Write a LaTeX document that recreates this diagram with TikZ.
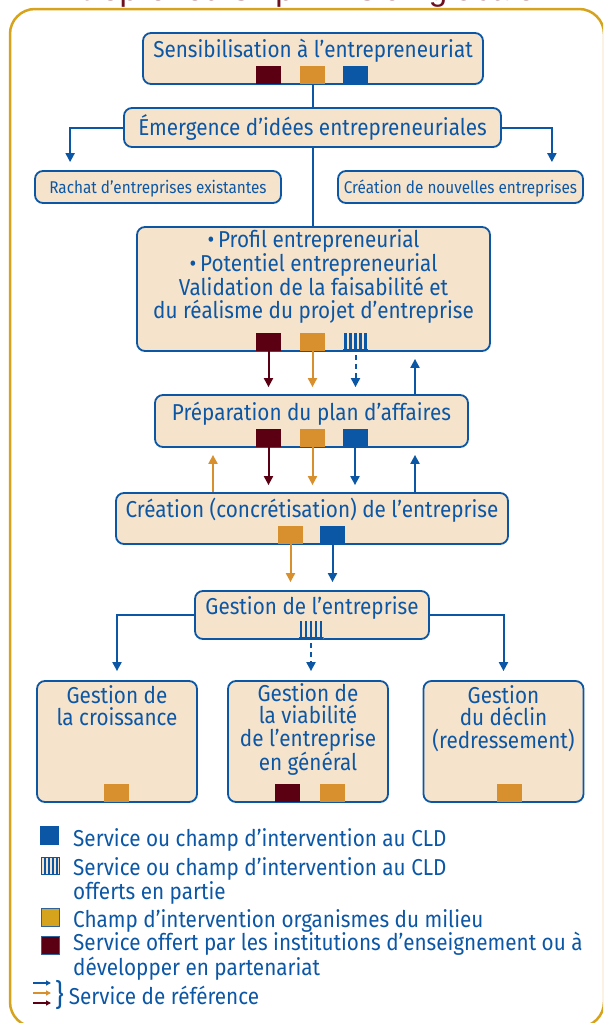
\documentclass[tikz,border=0pt]{standalone}
\usepackage{fontspec}
\setmainfont{Fira Sans}[FakeStretch=0.9]
\newfontfamily\titlefont{Liberation Sans}
\usetikzlibrary{arrows.meta}

\definecolor{cldblue}{HTML}{0C57A5}
\definecolor{cldred}{HTML}{5A0012}
\definecolor{cldorange}{HTML}{D88F2D}
\definecolor{cldgold}{HTML}{D6A31C}
\definecolor{boxfill}{HTML}{F5E3CB}
\definecolor{titlered}{HTML}{6E1020}

\begin{document}
\begin{tikzpicture}[x=1pt, y=-1pt,
    box/.style={draw=cldblue, fill=boxfill, line width=1.8pt, rounded corners=8pt, inner sep=0pt},
    txt/.style={text=cldblue, inner sep=0pt, align=center, font=\fontsize{23}{22.5}\selectfont},
    small/.style={txt, font=\fontsize{17}{20}\selectfont},
    sq/.style={minimum width=25pt, minimum height=18pt, inner sep=0pt, anchor=south},
    striped/.style={sq, fill=boxfill, path picture={
        \foreach \i in {0,...,4}
            \fill[cldblue] ([xshift=\i*5pt+1pt]path picture bounding box.south west) rectangle ++(2.6pt,18pt);
        \fill[cldblue] (path picture bounding box.south west) rectangle ([yshift=2pt]path picture bounding box.south east);}},
    conn/.style={draw=cldblue, line width=2pt},
    arr/.style={conn, -{Triangle[width=9pt,length=9pt]}},
]
    \useasboundingbox (0,0) rectangle (603,1023);

    % Frame and title
    \begin{scope}
        \clip (0,0) rectangle (603,1023);
        \draw[cldgold, line width=2.5pt, rounded corners=25pt] (10,9) rectangle (604,1027);
        \node[anchor=base, text=titlered, font=\titlefont\fontsize{33}{35}\selectfont] (title) at (288,0) {Entrepreneurship – Vision globale};
    \end{scope}

    % Sensibilisation
    \node[box, minimum width=340pt, minimum height=51pt] (sens) at (313,58.5) {};
    \node[txt, anchor=base] (sens-t) at (313,57) {Sensibilisation à l'entrepreneuriat};
    \foreach \n/\c/\x in {r/cldred/268.5, o/cldorange/312.5, b/cldblue/355.5}
        \node[sq, fill=\c] (sens-\n) at (\x,84) {};

    % Emergence
    \node[box, minimum width=377pt, minimum height=39pt] (emer) at (312.5,127.5) {};
    \node[txt, anchor=base] (emer-t) at (312.5,135) {Émergence d'idées entrepreneuriales};
    \node[box, minimum width=246pt, minimum height=32pt] (rachat) at (158,187) {};
    \node[small, anchor=base] (rachat-t) at (158,193) {Rachat d'entreprises existantes};
    \node[box, minimum width=245pt, minimum height=32pt] (nouv) at (460.5,187) {};
    \node[small, anchor=base] (nouv-t) at (460.5,193) {Création de nouvelles entreprises};

    % Profil (anchor base = last line)
    \node[box, minimum width=353pt, minimum height=124pt] (prof) at (313.5,289) {};
    \node[txt, anchor=base] (prof-t) at (313.5,318) {\textbullet\,Profil entrepreneurial\\
        \textbullet\,Potentiel entrepreneurial\\
        Validation de la faisabilité et\\
        du réalisme du projet d'entreprise};
    \foreach \n/\c/\x in {r/cldred/268.5, o/cldorange/312.5}
        \node[sq, fill=\c] (prof-\n) at (\x,351) {};
    \node[striped] (prof-s) at (355.5,351) {};

    % Plan d'affaires
    \node[box, minimum width=313pt, minimum height=52pt] (prep) at (311.5,421) {};
    \node[txt, anchor=base] (prep-t) at (311.5,420) {Préparation du plan d'affaires};
    \foreach \n/\c/\x in {r/cldred/268.5, o/cldorange/312.5, b/cldblue/355}
        \node[sq, fill=\c] (prep-\n) at (\x,447) {};

    % Creation
    \node[box, minimum width=392pt, minimum height=51pt] (crea) at (312,518.5) {};
    \node[txt, anchor=base] (crea-t) at (312,517) {Création (concrétisation) de l'entreprise};
    \foreach \n/\c/\x in {o/cldorange/290.5, b/cldblue/332.5}
        \node[sq, fill=\c] (crea-\n) at (\x,544) {};

    % Gestion
    \node[box, minimum width=234pt, minimum height=48pt] (gest) at (312,615) {};
    \node[txt, anchor=base] (gest-t) at (312,614) {Gestion de l'entreprise};
    \node[striped, minimum height=17pt] (gest-s) at (311,639) {};

    \foreach \name/\x/\y/\label in {growth/117/725.5/{Gestion de\\la croissance},
                                    viab/308/770.5/{Gestion de\\la viabilité\\de l'entreprise\\en général},
                                    decl/503.5/748/{Gestion\\du déclin\\(redressement)}} {
        \node[box, minimum width=160pt, minimum height=121pt] (\name) at (\x,741.5) {};
        \node[txt, anchor=base] (\name-t) at (\x,\y) {\label};
    }
    \node[sq, fill=cldorange] (growth-o) at (116.5,802) {};
    \node[sq, fill=cldred] (viab-r) at (287.5,802) {};
    \node[sq, fill=cldorange] (viab-o) at (332.5,802) {};
    \node[sq, fill=cldorange] (decl-o) at (509.5,802) {};

    % Connectors
    \coordinate (blueup) at (415,0);
    \coordinate (orangeup) at (213,0);
    \draw[conn] (sens.south) -- (sens.south |- emer.north);
    \draw[arr, shorten >=8pt] (emer.west) -| ([xshift=36pt]rachat.north west);
    \draw[arr, shorten >=8pt] (emer.east) -| ([xshift=-32pt]nouv.north east);
    \draw[conn] (emer.south) -- (emer.south |- prof.north);

    \draw[arr, draw=cldred, shorten >=7pt] (prof-r.south) -- (prof-r.south |- prep.north);
    \draw[arr, draw=cldorange, shorten >=7pt] (prof-o.south) -- (prof-o.south |- prep.north);
    \draw[arr, dash pattern=on 5pt off 4pt, shorten <=4pt, shorten >=7pt] (prof-s.south) -- (prof-s.south |- prep.north);
    \draw[arr, shorten >=7pt] (blueup |- prep.north) -- (blueup |- prof.south);

    \draw[arr, draw=cldred, shorten >=7pt] (prep-r.south) -- (prep-r.south |- crea.north);
    \draw[arr, draw=cldorange, shorten >=7pt] (prep-o.south) -- (prep-o.south |- crea.north);
    \draw[arr, shorten >=7pt] (prep-b.south) -- (prep-b.south |- crea.north);
    \draw[arr, draw=cldorange, shorten >=7pt] (orangeup |- crea.north) -- (orangeup |- prep.south);
    \draw[arr, shorten >=7pt] (blueup |- crea.north) -- (blueup |- prep.south);

    \draw[arr, draw=cldorange, shorten >=8pt] (crea-o.south) -- (crea-o.south |- gest.north);
    \draw[arr, shorten >=8pt] (crea-b.south) -- (crea-b.south |- gest.north);

    \draw[arr, shorten >=9pt] (gest.west) -| (growth.north);
    \draw[arr, shorten >=9pt] (gest.east) -| (decl.north);
    \draw[arr, dash pattern=on 5pt off 4pt, shorten <=4pt, shorten >=9pt] (gest-s.south) -- (gest-s.south |- viab.north);

    % Legend
    \node[sq, anchor=north west, fill=cldblue, minimum width=19pt, minimum height=19pt] (leg-b) at (40,826) {};
    \node[txt, anchor=base west] (leg-b-t) at (73,846) {Service ou champ d'intervention au CLD};
    \node[sq, anchor=north west, draw=cldblue, line width=1pt, fill=boxfill, minimum width=18pt, minimum height=17pt,
          path picture={\foreach \i in {0,...,3}
              \fill[cldblue] ([xshift=\i*4pt+3pt]path picture bounding box.south west) rectangle ++(2pt,17pt);}] (leg-s) at (40.5,857) {};
    \node[txt, anchor=base west, align=left] (leg-s-t) at (73,899) {Service ou champ d'intervention au CLD\\offerts en partie};
    \node[sq, anchor=north west, fill=cldgold, draw=cldblue!70!gray, line width=1pt, minimum width=18pt, minimum height=18pt] (leg-o) at (40.5,908) {};
    \node[txt, anchor=base west] (leg-o-t) at (73,927) {Champ d'intervention organismes du milieu};
    \node[sq, anchor=north west, fill=cldred, draw=cldblue!70!gray, line width=1pt, minimum width=18pt, minimum height=18pt] (leg-r) at (40.5,936) {};
    \node[txt, anchor=base west, align=left] (leg-r-t) at (73,975) {Service offert par les institutions d'enseignement ou à\\développer en partenariat};
    \foreach \c/\y in {cldblue/983, cldorange/993, cldred/1003}
        \draw[draw=\c, line width=1.2pt, -{Triangle[width=5pt,length=5pt]}] (33,\y) -- (51,\y);
    \node[txt, anchor=base west] (leg-ref) at (55,1004) {{\fontsize{30}{30}\selectfont\raisebox{-1pt}{\}}}\hspace{5pt}Service de référence};
\end{tikzpicture}
\end{document}
